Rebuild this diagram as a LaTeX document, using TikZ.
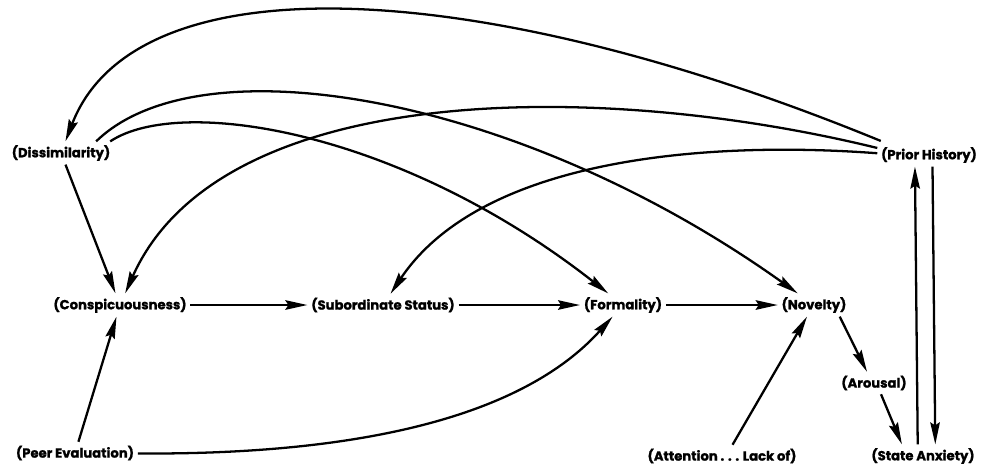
\documentclass[tikz,border=0pt]{standalone}
\usepackage{fontspec}
\setmainfont{Poppins}[BoldFeatures={FakeBold=1.2}]
\usetikzlibrary{arrows.meta, positioning}

\begin{document}
\begin{tikzpicture}[
        x=0.02cm, y=-0.02cm,
        font=\bfseries\fontsize{7.5}{9}\selectfont,
        var/.style={inner sep=2pt},
        link/.style={line width=1.3pt, -{Stealth[length=4.4mm, width=1.9mm, inset=0.6mm]}}
    ]
        \useasboundingbox (0,0) rectangle (992,468);

        % variables
        \node[var] (diss) at (61,153) {(Dissimilarity)};
        \node[var] (prior) at (929,155) {(Prior History)};
        \node[var] (consp) at (120,305) {(Conspicuousness)};
        \node[var] (subord) at (383,305) {(Subordinate Status)};
        \node[var] (formal) at (623,305) {(Formality)};
        \node[var] (novel) at (814,305) {(Novelty)};
        \node[var] (arousal) at (874,383) {(Arousal)};
        \node[var] (peer) at (75,453) {(Peer Evaluation)};
        \node[var] (attn) at (722,456) {(Attention . . . Lack of)};
        \node[var] (anxiety) at (923,456) {(State Anxiety)};

        % main chain
        \draw[link] (consp) -- (subord);
        \draw[link] (subord) -- (formal);
        \draw[link] (formal) -- (novel);

        \draw[link] (diss) -- (consp);
        \draw[link] (peer) -- (consp);
        \draw[link] ([xshift=-6pt]novel.south east) -- ([xshift=-4pt]arousal.north);
        \draw[link] ([xshift=4pt]arousal.south) -- ([xshift=-12pt]anxiety.north);
        \draw[link] ([xshift=6pt]attn.north) -- ([xshift=-4pt]novel.south);

        % prior history <-> state anxiety
        \draw[link] ([xshift=-3pt]anxiety.north) -- ([xshift=-8pt]prior.south);
        \draw[link] ([xshift=2pt]prior.south) -- ([xshift=7pt]anxiety.north);

        % long curved links
        \draw[link] ([xshift=2pt,yshift=8pt]prior.west) .. controls (477,-25) and (135,-40) .. (diss);
        \draw[link] ([xshift=20pt]diss.north) .. controls (200,40) and (520,95) .. (novel);
        \draw[link] ([xshift=28pt]diss.north) .. controls (180,95) and (400,130) .. (formal);
        \draw[link] ([yshift=4pt]prior.west) .. controls (600,80) and (220,80) .. (consp);
        \draw[link] ([yshift=1pt]prior.west) .. controls (700,140) and (480,160) .. (subord);
        \draw[link] (peer) .. controls (350,455) and (520,420) .. (formal);
\end{tikzpicture}
\end{document}
